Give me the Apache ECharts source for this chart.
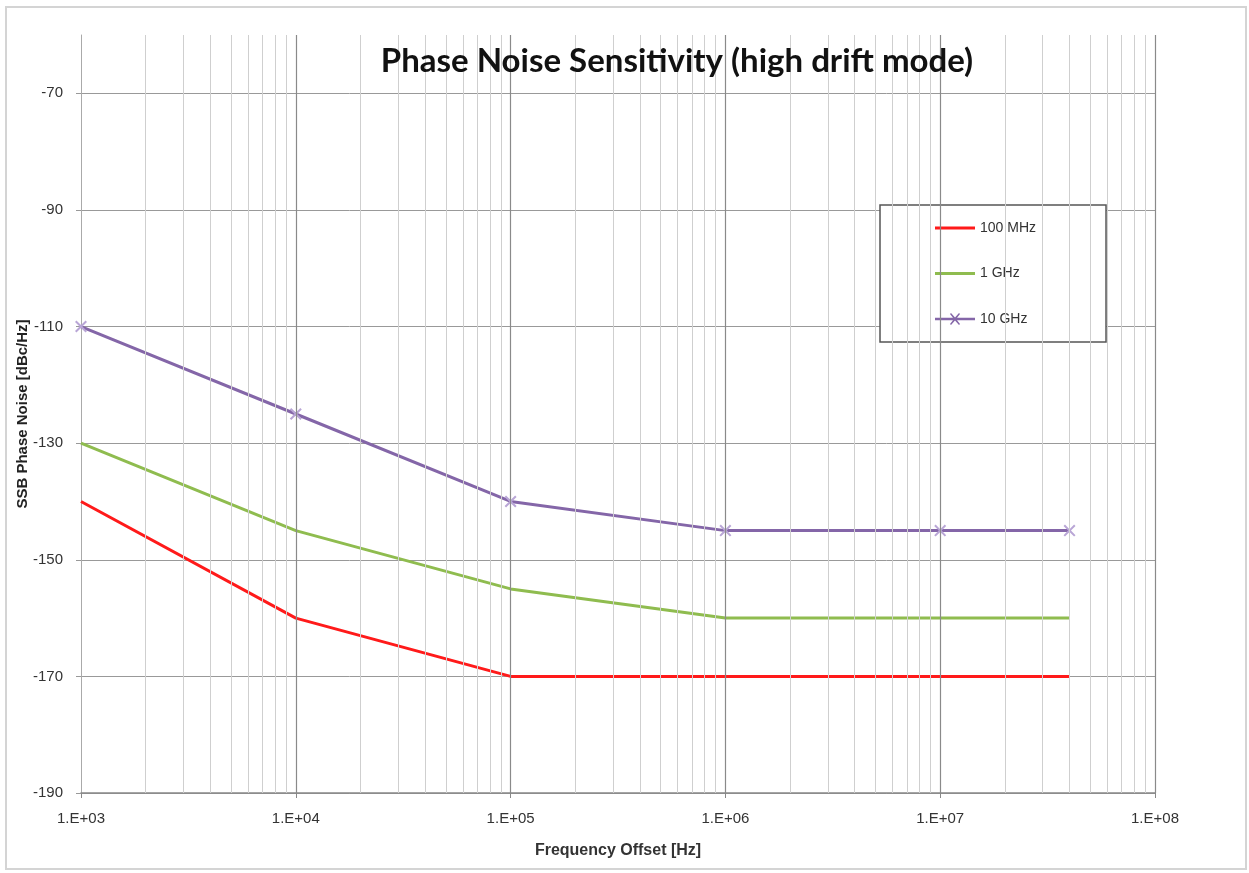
<!DOCTYPE html>
<html><head><meta charset="utf-8">
<script src="https://cdn.jsdelivr.net/npm/echarts@6/dist/echarts.min.js"></script>
<style>html,body{margin:0;padding:0;background:#fff}#c{width:1249px;height:873px}</style>
</head><body><div id="c"></div>
<script>
const freqs = [1e3, 1e4, 1e5, 1e6, 1e7, 4e7];
const s100MHz = [-140, -160, -170, -170, -170, -170];
const s1GHz = [-130, -145, -155, -160, -160, -160];
const s10GHz = [-110, -125, -140, -145, -145, -145];
const seriesNames = ['100 MHz', '1 GHz', '10 GHz'];
const minorX = [];
for (let d = 3; d < 8; d++) for (let m = 2; m <= 9; m++) minorX.push(m * Math.pow(10, d));
const majorX = [1e4, 1e5, 1e6, 1e7, 1e8];

const pair = (vals) => freqs.map((f, i) => [f, vals[i]]);
const chart = echarts.init(document.getElementById('c'));
const xShape = 'path://M0,1.2 L1.2,0 L5,3.8 L8.8,0 L10,1.2 L6.2,5 L10,8.8 L8.8,10 L5,6.2 L1.2,10 L0,8.8 L3.8,5 Z';
const lineIcon = 'path://M0,4.6H40V7.4H0Z';
const lineXIcon = 'path://M0,4.8H40V7.2H0Z M15,1 L16,0 L20,4.6 L24,0 L25,1 L21,6 L25,11 L24,12 L20,7.4 L16,12 L15,11 L19,6 Z';
const lblFont = 'Liberation Sans';
chart.setOption({
  animation: false,
  backgroundColor: '#fff',
  graphic: [{type:'rect', shape:{x:6,y:7,width:1240,height:862}, style:{fill:'none', stroke:'#d4d4d4', lineWidth:2}, z:-1}],
  title: {text: 'Phase Noise Sensitivity (high drift mode)', left: 672, top: 40, textAlign: 'center',
    textStyle: {fontFamily: 'Lato', fontWeight: 'bold', fontSize: 33, color: '#111'}},
  grid: {left: 81, right: 94, top: 35, bottom: 80},
  legend: {
    orient: 'vertical', left: 880, top: 205,
    padding: [16, 70, 16, 55], itemGap: 31.5, itemWidth: 40, itemHeight: 12,
    backgroundColor: '#fff', borderColor: '#555', borderWidth: 1.5,
    textStyle: {fontFamily: lblFont, fontSize: 14, color: '#333', padding: [0,0,0,0]},
    data: [
      {name: seriesNames[0], icon: lineIcon, itemStyle: {color: '#ff1a1a'}},
      {name: seriesNames[1], icon: lineIcon, itemStyle: {color: '#8fbc4f'}},
      {name: seriesNames[2], icon: lineXIcon, itemStyle: {color: '#8466a8'}}
    ]
  },
  xAxis: {
    type: 'log', logBase: 10, min: 1e3, max: 1e8,
    name: 'Frequency Offset [Hz]', nameLocation: 'middle', nameGap: 50,
    nameTextStyle: {fontFamily: lblFont, fontWeight: 'bold', fontSize: 16, color: '#333'},
    axisLine: {lineStyle: {color: '#888', width: 1.5}},
    axisTick: {show: true, length: 5, lineStyle: {color: '#888'}},
    axisLabel: {fontFamily: lblFont, fontSize: 15, color: '#333', margin: 18,
      formatter: v => '1.E+0' + Math.round(Math.log10(v))},
    splitLine: {show: false}
  },
  yAxis: {
    type: 'value', min: -190, max: -60, interval: 20,
    name: 'SSB Phase Noise [dBc/Hz]', nameLocation: 'middle', nameGap: 51, nameMoveOverlap: false,
    nameTextStyle: {fontFamily: lblFont, fontWeight: 'bold', fontSize: 15, color: '#222'},
    axisLine: {show: true, lineStyle: {color: '#aaa', width: 1}},
    axisTick: {show: true, length: 5, lineStyle: {color: '#999'}},
    axisLabel: {fontFamily: lblFont, fontSize: 15, color: '#333', margin: 18, showMaxLabel: false},
    splitLine: {show: true, showMaxLine: false, lineStyle: {color: '#999', width: 1}}
  },
  series: [
    {name: '__grid', type: 'line', data: [], silent: true, z: 0,
      markLine: {silent: true, symbol: 'none', label: {show: false}, animation: false,
        data: minorX.map(x => ({xAxis: x, lineStyle: {color: '#cfcfcf', width: 1, type: 'solid'}}))
          .concat(majorX.map(x => ({xAxis: x, lineStyle: {color: '#8a8a8a', width: 1.2, type: 'solid'}})))}},
    {name: seriesNames[0], type: 'line', data: pair(s100MHz), showSymbol: false, symbol: 'none',
      lineStyle: {color: '#ff1a1a', width: 3}, itemStyle: {color: '#ff1a1a'}, z: 3},
    {name: seriesNames[1], type: 'line', data: pair(s1GHz), showSymbol: false, symbol: 'none',
      lineStyle: {color: '#8fbc4f', width: 3}, itemStyle: {color: '#8fbc4f'}, z: 3},
    {name: seriesNames[2], type: 'line', data: pair(s10GHz), symbol: xShape, symbolSize: 12, showSymbol: true,
      lineStyle: {color: '#8466a8', width: 3}, itemStyle: {color: '#b9a6d6'}, z: 3}
  ]
});
</script></body></html>
